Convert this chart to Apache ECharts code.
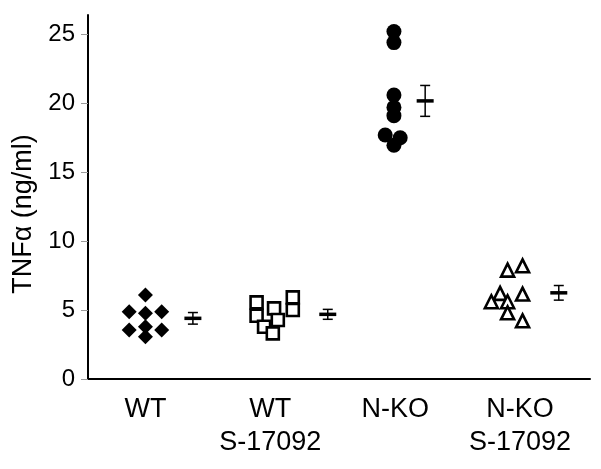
<!DOCTYPE html>
<html>
<head>
<meta charset="utf-8">
<script src="https://cdn.jsdelivr.net/npm/echarts@6/dist/echarts.min.js"></script>
<style>
html,body{margin:0;padding:0;background:#fff;}
#chart{width:601px;height:469px;}
</style>
</head>
<body>
<div id="chart"></div>
<script>
// Categories and tick labels
var categories = ['WT', 'WT\nS-17092', 'N-KO', 'N-KO\nS-17092'];
var categoryPos = [1, 2, 3, 4];
var yTicks = [0, 5, 10, 15, 20, 25];

// Individual values (x = position within group, y = TNFα ng/ml)
var wtX   = [1.00, 0.87, 1.00, 1.13, 0.87, 1.00, 1.13, 1.00];
var wtY   = [6.10, 4.88, 4.76, 4.88, 3.55, 3.79, 3.55, 3.07];
var wtsX  = [1.89, 1.89, 2.03, 2.18, 2.18, 1.95, 2.06, 2.02];
var wtsY  = [5.56, 4.59, 5.12, 5.92, 5.00, 3.79, 4.28, 3.31];
var nkoX  = [2.99, 2.99, 2.99, 2.99, 2.99, 2.92, 3.04, 2.99];
var nkoY  = [25.2, 24.4, 20.6, 19.7, 19.1, 17.7, 17.5, 16.95];
var nkosX = [3.90, 4.02, 3.84, 4.02, 3.77, 3.90, 3.90, 4.02];
var nkosY = [7.90, 8.21, 6.21, 6.16, 5.60, 5.60, 4.80, 4.22];

// Mean ± SEM
var meanX = [1.38, 2.46, 3.24, 4.31];
var means = [4.40, 4.69, 20.17, 6.25];
var sems  = [0.42, 0.36, 1.12, 0.53];

function zip(xs, ys) { return xs.map(function (x, i) { return [x, ys[i]]; }); }

var FONT = "'Liberation Sans', Arial, Helvetica, sans-serif";
var chart = echarts.init(document.getElementById('chart'), null, {renderer: 'canvas'});

var option = {
  animation: false,
  backgroundColor: '#fff',
  grid: {left: 88, right: 11, top: 15, bottom: 90, containLabel: false},
  xAxis: {
    type: 'value', min: 0.54, max: 4.56,
    axisLine: {show: true, onZero: false, lineStyle: {color: '#000', width: 2}},
    axisTick: {show: false},
    splitLine: {show: false},
    axisLabel: {
      customValues: categoryPos,
      formatter: function (v) { return categories[Math.round(v) - 1] || ''; },
      color: '#000', fontSize: 27, fontFamily: FONT, lineHeight: 33, margin: 14
    }
  },
  yAxis: {
    type: 'value', min: 0, max: 26.4,
    axisLine: {show: true, lineStyle: {color: '#000', width: 2}},
    axisTick: {show: true, customValues: yTicks, length: 7, lineStyle: {color: '#999', width: 1}},
    splitLine: {show: false},
    axisLabel: {customValues: yTicks, color: '#000', fontSize: 24, fontFamily: FONT, margin: 13},
    name: 'TNFα (ng/ml)', nameLocation: 'middle', nameGap: 50, nameRotate: 90,
    nameTextStyle: {color: '#000', fontSize: 27, fontFamily: FONT, padding: [0, 34, 0, 0]}
  },
  series: [
    {type: 'scatter', data: zip(wtX, wtY), symbol: 'diamond', symbolSize: 15,
     itemStyle: {color: '#000', opacity: 1}},
    {type: 'scatter', data: zip(wtsX, wtsY), symbol: 'rect', symbolSize: 12,
     itemStyle: {color: '#fff', borderColor: '#000', borderWidth: 2.6, opacity: 1}},
    {type: 'scatter', data: zip(nkoX, nkoY), symbol: 'circle', symbolSize: 15,
     itemStyle: {color: '#000', opacity: 1}},
    {type: 'scatter', data: zip(nkosX, nkosY), symbol: 'triangle', symbolSize: 13,
     itemStyle: {color: '#fff', borderColor: '#000', borderWidth: 2.6, opacity: 1}},
    {
      type: 'custom',
      data: meanX.map(function (x, i) { return [x, means[i], sems[i]]; }),
      renderItem: function (params, api) {
        var x = api.value(0), m = api.value(1), s = api.value(2);
        var pm = api.coord([x, m]);
        var pt = api.coord([x, m + s]);
        var pb = api.coord([x, m - s]);
        var cap = 5, half = 8.5;
        var ls = {stroke: '#000', lineWidth: 1.5};
        return {
          type: 'group',
          children: [
            {type: 'line', shape: {x1: pm[0], y1: pt[1], x2: pm[0], y2: pb[1]}, style: ls},
            {type: 'line', shape: {x1: pm[0] - cap, y1: pt[1], x2: pm[0] + cap, y2: pt[1]}, style: ls},
            {type: 'line', shape: {x1: pm[0] - cap, y1: pb[1], x2: pm[0] + cap, y2: pb[1]}, style: ls},
            {type: 'line', shape: {x1: pm[0] - half, y1: pm[1], x2: pm[0] + half, y2: pm[1]},
             style: {stroke: '#000', lineWidth: 3.5}}
          ]
        };
      }
    }
  ]
};
chart.setOption(option);
</script>
</body>
</html>
